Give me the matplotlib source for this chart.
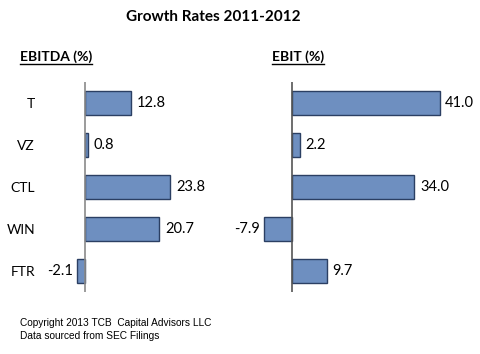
import matplotlib
matplotlib.use("Agg")
import matplotlib.pyplot as plt
from matplotlib.lines import Line2D

companies = ["T", "VZ", "CTL", "WIN", "FTR"]
ebitda = [12.8, 0.8, 23.8, 20.7, -2.1]
ebit = [41.0, 2.2, 34.0, -7.9, 9.7]

BAR = "#6E8FC0"
EDGE = "#2B3F63"
W, H = 480, 354


def px_axes(fig, x0, x1, y0, y1):
    # pixel box (from top-left) -> figure fraction
    return fig.add_axes([x0 / W, 1 - y1 / H, (x1 - x0) / W, (y1 - y0) / H])


def draw_panel(ax, values, xlim, show_labels, spine_color):
    pos = list(range(len(values)))
    ax.barh(pos, values, height=0.57, color=BAR, edgecolor=EDGE, linewidth=1)
    ax.set_xlim(*xlim)
    ax.set_ylim(4.5, -0.5)
    for s in ["top", "right", "bottom", "left"]:
        ax.spines[s].set_visible(False)
    ax.axvline(0, color=spine_color, lw=1.2)
    ax.set_xticks([])
    ax.set_yticks(pos)
    if show_labels:
        ax.set_yticklabels(companies, fontsize=10, family="Lato", ha="right")
        ax.tick_params(axis="y", length=0, pad=18)
    else:
        ax.set_yticklabels([])
        ax.tick_params(axis="y", length=0)
    ax.patch.set_visible(False)
    for p, v in zip(pos, values):
        if v >= 0:
            ax.annotate(f"{v:.1f}", (v, p), xytext=(4, 0), textcoords="offset points",
                        ha="left", va="center", fontsize=10.5, family="Lato")
        else:
            ax.annotate(f"{v:.1f}", (v, p), xytext=(-3, 0), textcoords="offset points",
                        ha="right", va="center", fontsize=10.5, family="Lato")


fig = plt.figure(figsize=(W / 100, H / 100), dpi=100)

ax1 = px_axes(fig, 60, 240, 82, 292)
draw_panel(ax1, ebitda, ((60 - 85) / 3.59, (240 - 85) / 3.59), True, "#8a8a8a")

ax2 = px_axes(fig, 255, 470, 82, 292)
draw_panel(ax2, ebit, ((255 - 292) / 3.6, (470 - 292) / 3.6), False, "#555555")

fig.text(213 / W, 1 - 17 / H, "Growth Rates 2011-2012", ha="center", va="center",
         fontsize=11, fontweight="bold", family="Lato")

heads = [fig.text(20 / W, 1 - 57 / H, "EBITDA (%)", ha="left", va="center",
                  fontsize=10, fontweight="bold", family="Lato"),
         fig.text(272 / W, 1 - 57 / H, "EBIT (%)", ha="left", va="center",
                  fontsize=10, fontweight="bold", family="Lato")]

fig.text(20 / W, 1 - 323 / H, "Copyright 2013 TCB  Capital Advisors LLC", ha="left",
         va="center", fontsize=7.3, family="Liberation Sans")
fig.text(20 / W, 1 - 336 / H, "Data sourced from SEC Filings", ha="left",
         va="center", fontsize=7.3, family="Liberation Sans")

# underline the panel headings
fig.canvas.draw()
r = fig.canvas.get_renderer()
for t in heads:
    bb = t.get_window_extent(r)
    yy = (bb.y0 - 1) / fig.bbox.height
    fig.add_artist(Line2D([bb.x0 / fig.bbox.width, bb.x1 / fig.bbox.width], [yy, yy],
                          color="black", lw=1))

fig.savefig("out.png", dpi=100)
